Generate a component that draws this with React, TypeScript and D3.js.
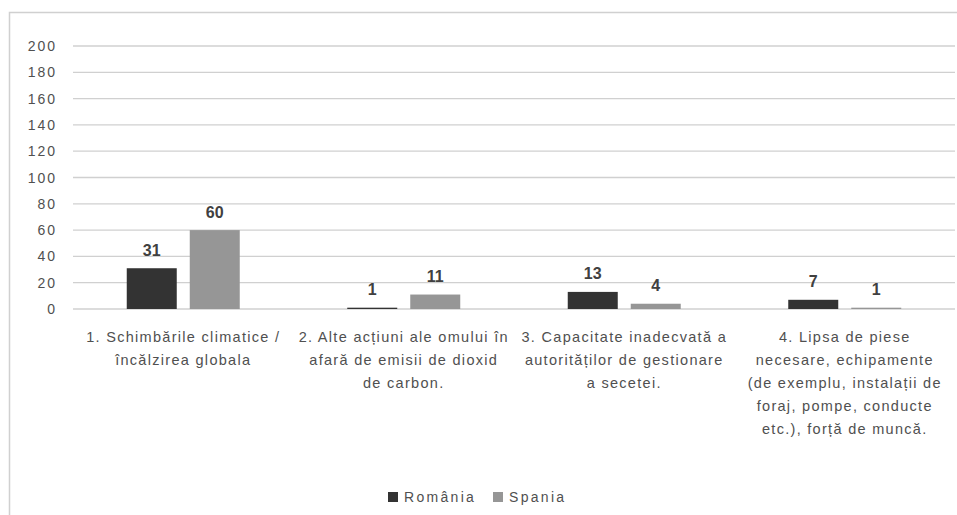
import React from "react";
import * as d3 from "d3";

const categories = [
  "1. Schimbările climatice /\nîncălzirea globala",
  "2. Alte acțiuni ale omului în\nafară de emisii de dioxid\nde carbon.",
  "3. Capacitate inadecvată a\nautorităților de gestionare\na secetei.",
  "4. Lipsa de piese\nnecesare, echipamente\n(de exemplu, instalații de\nforaj, pompe, conducte\netc.), forță de muncă.",
];
const seriesNames = ["România", "Spania"];
const romania = [31, 1, 13, 7];
const spania = [60, 11, 4, 1];
const yTicks = [0, 20, 40, 60, 80, 100, 120, 140, 160, 180, 200];
const colors = ["#333333", "#969696"];

export default function App() {
  const W = 957, H = 515;
  const left = 73, right = 955, top = 46, bottom = 309;
  const x = d3.scaleBand<number>().domain(d3.range(categories.length)).range([left, right]);
  const y = d3.scaleLinear().domain([0, 200]).range([bottom, top]);
  const barW = 50, gap = 13;
  const series = [romania, spania];
  const font = "'Liberation Sans', Arial, sans-serif";
  return (
    <svg width={W} height={H} style={{ position: "absolute", left: 0, top: 0 }} fontFamily={font}>
      <rect x={0} y={0} width={W} height={H} fill="#fff" />
      <rect x={9.5} y={12.5} width={960} height={600} fill="none" stroke="#d0d0d0" strokeWidth={1.5} />
      {yTicks.map((t) => (
        <g key={t}>
          <line x1={left} x2={right} y1={y(t)} y2={y(t)} stroke="#d0d0d0" strokeWidth={1.3} />
          <text x={57} y={y(t) + 5} textAnchor="end" fontSize={14} fill="#505050" letterSpacing={2}>
            {t}
          </text>
        </g>
      ))}
      {categories.map((c, i) => {
        const cx = (x(i) as number) + x.bandwidth() / 2;
        return (
          <g key={i}>
            {series.map((s, k) => {
              const bx = cx - gap / 2 - barW + k * (barW + gap);
              return (
                <g key={k}>
                  <rect x={bx} y={y(s[i])} width={barW} height={bottom - y(s[i])} fill={colors[k]} />
                  <text x={bx + barW / 2} y={y(s[i]) - 12.5} textAnchor="middle" fontSize={16} fontWeight="bold" fill="#404040">
                    {s[i]}
                  </text>
                </g>
              );
            })}
            <text textAnchor="middle" fontSize={14.5} fill="#505050" letterSpacing={1.3}>
              {c.split("\n").map((ln, j) => (
                <tspan key={j} x={cx} y={342 + j * 23}>
                  {ln}
                </tspan>
              ))}
            </text>
          </g>
        );
      })}
      {seriesNames.map((n, k) => {
        const lx = [388, 493][k];
        return (
          <g key={n}>
            <rect x={lx} y={492} width={10} height={10} fill={colors[k]} />
            <text x={lx + 16} y={502} fontSize={14} fill="#505050" letterSpacing={2.3}>
              {n}
            </text>
          </g>
        );
      })}
    </svg>
  );
}
